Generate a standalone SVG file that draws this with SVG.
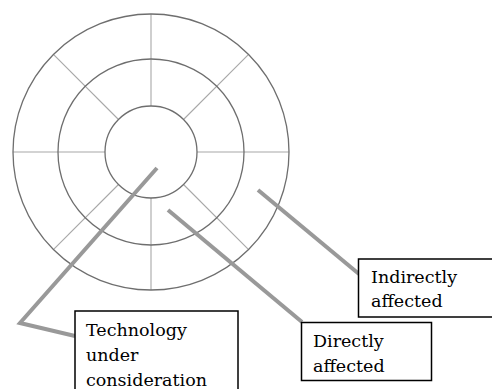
<svg xmlns="http://www.w3.org/2000/svg" width="492" height="389" viewBox="0 0 492 389">
  <style>
    .ring { fill: none; stroke: #6e6e6e; stroke-width: 1.3; }
    .spoke { stroke: #a8a8a8; stroke-width: 1.1; fill: none; }
    .link { fill: none; stroke: #999999; stroke-width: 4; stroke-linejoin: miter; }
    .box { fill: #ffffff; stroke: #000000; stroke-width: 1.5; }
    .label { font-family: "DejaVu Serif", "Liberation Serif", serif; font-size: 17.5px; fill: #000000; }
  </style>
  <rect width="492" height="389" fill="#ffffff"/>

  <!-- concentric rings with radial dividers -->
  <g id="wheel">
    <g class="spoke">
      <line x1="151" y1="14" x2="151" y2="106"/>
      <line x1="151" y1="198" x2="151" y2="290"/>
      <line x1="13" y1="152" x2="105" y2="152"/>
      <line x1="197" y1="152" x2="289" y2="152"/>
      <line x1="53.4" y1="54.4" x2="118.5" y2="119.5"/>
      <line x1="183.5" y1="184.5" x2="248.6" y2="249.6"/>
      <line x1="248.6" y1="54.4" x2="183.5" y2="119.5"/>
      <line x1="118.5" y1="184.5" x2="53.4" y2="249.6"/>
    </g>
    <circle class="ring" cx="151" cy="152" r="138"/>
    <circle class="ring" cx="151" cy="152" r="93"/>
    <circle class="ring" cx="151" cy="152" r="46"/>
  </g>

  <!-- leader lines -->
  <g id="connectors">
    <polyline class="link" points="157,168 20,323 75,336"/>
    <line class="link" x1="168" y1="210" x2="302" y2="322"/>
    <line class="link" x1="258" y1="190" x2="359" y2="274"/>
  </g>

  <g id="technology">
    <rect class="box" x="75" y="311" width="163" height="82"/>
    <text class="label" x="86" y="336">Technology</text>
    <text class="label" x="86" y="361">under</text>
    <text class="label" x="86" y="386">consideration</text>
  </g>

  <g id="directly">
    <rect class="box" x="301.5" y="322.5" width="130" height="58"/>
    <text class="label" x="313" y="347">Directly</text>
    <text class="label" x="313" y="372">affected</text>
  </g>

  <g id="indirectly">
    <rect class="box" x="358.5" y="259" width="140" height="58"/>
    <text class="label" x="371" y="283">Indirectly</text>
    <text class="label" x="371" y="307">affected</text>
  </g>
</svg>
